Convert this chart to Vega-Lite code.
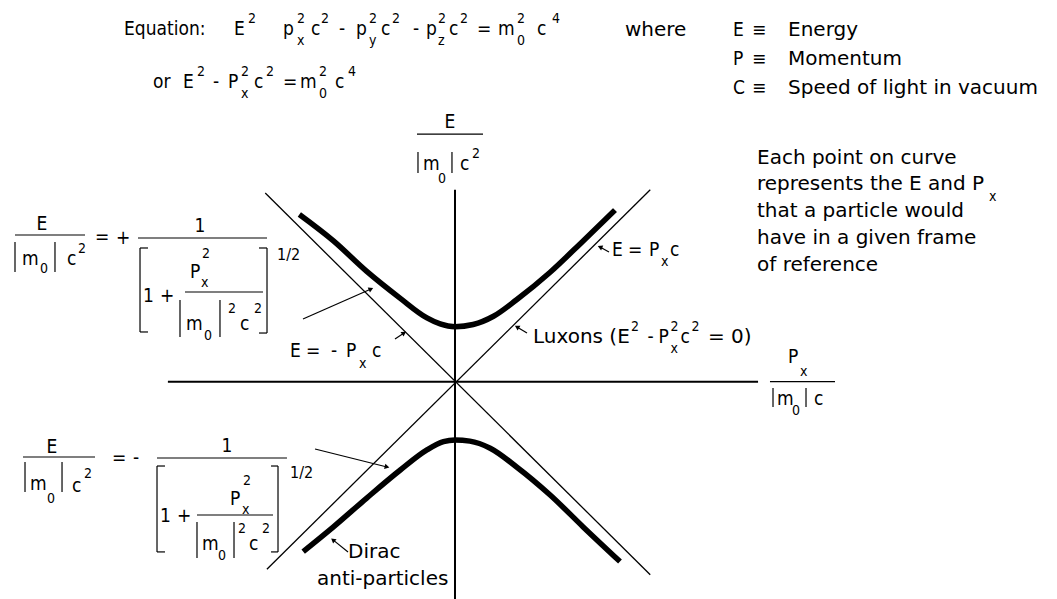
{
  "$schema": "https://vega.github.io/schema/vega-lite/v6.json",
  "width": 1057,
  "height": 599,
  "padding": 0,
  "autosize": {"type": "none"},
  "background": "white",
  "config": {"view": {"stroke": null}, "text": {"font": "DejaVu Sans Condensed", "color": "black"}},
  "datasets": {
    "curves": [
      {"c": "particles", "x": -2.83, "y": 3.04},
      {"c": "particles", "x": -2.21, "y": 2.56},
      {"c": "particles", "x": -1.61, "y": 2.01},
      {"c": "particles", "x": -1.0, "y": 1.52},
      {"c": "particles", "x": -0.51, "y": 1.16},
      {"c": "particles", "x": -0.27, "y": 1.05},
      {"c": "particles", "x": 0, "y": 1.0},
      {"c": "particles", "x": 0.33, "y": 1.04},
      {"c": "particles", "x": 0.7, "y": 1.19},
      {"c": "particles", "x": 1.12, "y": 1.49},
      {"c": "particles", "x": 1.73, "y": 1.99},
      {"c": "particles", "x": 2.33, "y": 2.56},
      {"c": "particles", "x": 2.91, "y": 3.12},
      {"c": "anti", "x": -2.76, "y": -3.09},
      {"c": "anti", "x": -2.21, "y": -2.64},
      {"c": "anti", "x": -1.61, "y": -2.12},
      {"c": "anti", "x": -1.0, "y": -1.61},
      {"c": "anti", "x": -0.51, "y": -1.24},
      {"c": "anti", "x": -0.21, "y": -1.09},
      {"c": "anti", "x": 0, "y": -1.06},
      {"c": "anti", "x": 0.27, "y": -1.08},
      {"c": "anti", "x": 0.64, "y": -1.21},
      {"c": "anti", "x": 1.12, "y": -1.55},
      {"c": "anti", "x": 1.73, "y": -2.06},
      {"c": "anti", "x": 2.33, "y": -2.64},
      {"c": "anti", "x": 3.0, "y": -3.27}
    ],
    "lux": [
      {"x": -3.45, "y": 3.43, "x2": 3.55, "y2": -3.51},
      {"x": -3.42, "y": -3.41, "x2": 3.55, "y2": 3.49}
    ],
    "axes": [
      {"x": 0, "y": 3.49, "x2": 0, "y2": -3.95},
      {"x": -5.22, "y": 0, "x2": 5.51, "y2": 0}
    ],
    "ticks": [
      {"v": 2, "label": "2"},
      {"v": 1, "label": "1"},
      {"v": -1, "label": "-1"},
      {"v": -2, "label": "-2"}
    ],
    "segs": [
      {"x": -0.691, "y": 4.503, "x2": 0.509, "y2": 4.503},
      {"x": -0.673, "y": 4.176, "x2": -0.673, "y2": 3.795},
      {"x": -0.055, "y": 4.176, "x2": -0.055, "y2": 3.795},
      {"x": 5.727, "y": 0, "x2": 6.909, "y2": 0},
      {"x": 5.782, "y": -0.113, "x2": 5.782, "y2": -0.458},
      {"x": 6.382, "y": -0.113, "x2": 6.382, "y2": -0.458},
      {"x": -8.0, "y": 2.667, "x2": -6.727, "y2": 2.667},
      {"x": -5.764, "y": 2.613, "x2": -3.418, "y2": 2.613},
      {"x": -4.909, "y": 1.631, "x2": -3.491, "y2": 1.631},
      {"x": -8.0, "y": 2.54, "x2": -8.0, "y2": 1.995},
      {"x": -7.273, "y": 2.54, "x2": -7.273, "y2": 1.995},
      {"x": -5.0, "y": 1.485, "x2": -5.0, "y2": 0.813},
      {"x": -4.273, "y": 1.485, "x2": -4.273, "y2": 0.813},
      {"x": -5.727, "y": 2.431, "x2": -5.727, "y2": 0.904},
      {"x": -5.727, "y": 2.431, "x2": -5.582, "y2": 2.431},
      {"x": -5.727, "y": 0.904, "x2": -5.582, "y2": 0.904},
      {"x": -3.418, "y": 2.431, "x2": -3.418, "y2": 0.885},
      {"x": -3.564, "y": 2.431, "x2": -3.418, "y2": 2.431},
      {"x": -3.564, "y": 0.885, "x2": -3.418, "y2": 0.885},
      {"x": -7.855, "y": -1.369, "x2": -6.545, "y2": -1.369},
      {"x": -5.418, "y": -1.387, "x2": -3.055, "y2": -1.387},
      {"x": -4.691, "y": -2.424, "x2": -3.309, "y2": -2.424},
      {"x": -7.818, "y": -1.46, "x2": -7.818, "y2": -2.005},
      {"x": -7.145, "y": -1.46, "x2": -7.145, "y2": -2.005},
      {"x": -4.691, "y": -2.551, "x2": -4.691, "y2": -3.205},
      {"x": -4.018, "y": -2.551, "x2": -4.018, "y2": -3.205},
      {"x": -5.418, "y": -1.533, "x2": -5.418, "y2": -3.095},
      {"x": -5.418, "y": -1.533, "x2": -5.273, "y2": -1.533},
      {"x": -5.418, "y": -3.095, "x2": -5.273, "y2": -3.095},
      {"x": -3.218, "y": -1.533, "x2": -3.218, "y2": -3.095},
      {"x": -3.345, "y": -1.533, "x2": -3.218, "y2": -1.533},
      {"x": -3.345, "y": -3.095, "x2": -3.218, "y2": -3.095},
      {"x": -2.764, "y": 1.14, "x2": -1.527, "y2": 1.685},
      {"x": -1.091, "y": 0.776, "x2": -0.927, "y2": 0.885},
      {"x": 2.8, "y": 2.358, "x2": 2.636, "y2": 2.449},
      {"x": 1.309, "y": 0.885, "x2": 1.127, "y2": 0.995},
      {"x": -2.545, "y": -1.224, "x2": -1.236, "y2": -1.551},
      {"x": -1.945, "y": -3.095, "x2": -2.218, "y2": -2.876}
    ],
    "heads": [
      {"x": -1.527, "y": 1.685, "a": 336},
      {"x": -0.927, "y": 0.885, "a": 326},
      {"x": 2.636, "y": 2.449, "a": 203},
      {"x": 1.127, "y": 0.995, "a": 211},
      {"x": -1.236, "y": -1.551, "a": 14},
      {"x": -2.218, "y": -2.876, "a": 219}
    ],
    "txt": [
      {"t": "Equation:", "x": -6.018, "y": 6.304, "k": "n"},
      {"t": "E", "x": -4.018, "y": 6.304, "k": "n"},
      {"t": "2", "x": -3.764, "y": 6.522, "k": "s"},
      {"t": "p", "x": -3.127, "y": 6.304, "k": "n"},
      {"t": "2", "x": -2.873, "y": 6.522, "k": "s"},
      {"t": "x", "x": -2.873, "y": 6.122, "k": "s"},
      {"t": "c", "x": -2.618, "y": 6.304, "k": "n"},
      {"t": "2", "x": -2.436, "y": 6.522, "k": "s"},
      {"t": "-", "x": -2.109, "y": 6.304, "k": "n"},
      {"t": "p", "x": -1.8, "y": 6.304, "k": "n"},
      {"t": "2", "x": -1.564, "y": 6.522, "k": "s"},
      {"t": "y", "x": -1.564, "y": 6.122, "k": "s"},
      {"t": "c", "x": -1.345, "y": 6.304, "k": "n"},
      {"t": "2", "x": -1.145, "y": 6.522, "k": "s"},
      {"t": "-", "x": -0.764, "y": 6.304, "k": "n"},
      {"t": "p", "x": -0.527, "y": 6.304, "k": "n"},
      {"t": "2", "x": -0.309, "y": 6.522, "k": "s"},
      {"t": "z", "x": -0.309, "y": 6.122, "k": "s"},
      {"t": "c", "x": -0.109, "y": 6.304, "k": "n"},
      {"t": "2", "x": 0.091, "y": 6.522, "k": "s"},
      {"t": "=", "x": 0.4, "y": 6.304, "k": "n"},
      {"t": "m", "x": 0.782, "y": 6.304, "k": "n"},
      {"t": "2", "x": 1.127, "y": 6.522, "k": "s"},
      {"t": "0", "x": 1.127, "y": 6.122, "k": "s"},
      {"t": "c", "x": 1.491, "y": 6.304, "k": "n"},
      {"t": "4", "x": 1.764, "y": 6.522, "k": "s"},
      {"t": "or", "x": -5.491, "y": 5.34, "k": "n"},
      {"t": "E", "x": -4.945, "y": 5.34, "k": "n"},
      {"t": "2", "x": -4.691, "y": 5.558, "k": "s"},
      {"t": "-", "x": -4.4, "y": 5.34, "k": "n"},
      {"t": "P", "x": -4.127, "y": 5.34, "k": "n"},
      {"t": "2", "x": -3.891, "y": 5.558, "k": "s"},
      {"t": "x", "x": -3.891, "y": 5.158, "k": "s"},
      {"t": "c", "x": -3.655, "y": 5.34, "k": "n"},
      {"t": "2", "x": -3.436, "y": 5.558, "k": "s"},
      {"t": "=", "x": -3.127, "y": 5.34, "k": "n"},
      {"t": "m", "x": -2.818, "y": 5.34, "k": "n"},
      {"t": "2", "x": -2.473, "y": 5.558, "k": "s"},
      {"t": "0", "x": -2.473, "y": 5.158, "k": "s"},
      {"t": "c", "x": -2.182, "y": 5.34, "k": "n"},
      {"t": "4", "x": -1.945, "y": 5.558, "k": "s"},
      {"t": "where", "x": 3.091, "y": 6.285, "k": "w"},
      {"t": "E", "x": 5.055, "y": 6.285, "k": "n"},
      {"t": "≡", "x": 5.4, "y": 6.285, "k": "n"},
      {"t": "Energy", "x": 6.055, "y": 6.285, "k": "w"},
      {"t": "P", "x": 5.055, "y": 5.758, "k": "n"},
      {"t": "≡", "x": 5.4, "y": 5.758, "k": "n"},
      {"t": "Momentum", "x": 6.055, "y": 5.758, "k": "w"},
      {"t": "C", "x": 5.055, "y": 5.231, "k": "n"},
      {"t": "≡", "x": 5.4, "y": 5.231, "k": "n"},
      {"t": "Speed of light in vacuum", "x": 6.055, "y": 5.231, "k": "w"},
      {"t": "Each point on curve", "x": 5.491, "y": 3.958, "k": "w"},
      {"t": "represents the E and P", "x": 5.491, "y": 3.485, "k": "w"},
      {"t": "x", "x": 9.709, "y": 3.285, "k": "s"},
      {"t": "that a particle would", "x": 5.491, "y": 2.995, "k": "w"},
      {"t": "have in a given frame", "x": 5.491, "y": 2.504, "k": "w"},
      {"t": "of reference", "x": 5.491, "y": 2.013, "k": "w"},
      {"t": "E", "x": -0.091, "y": 4.613, "k": "c"},
      {"t": "m", "x": -0.582, "y": 3.849, "k": "n"},
      {"t": "0", "x": -0.309, "y": 3.613, "k": "s"},
      {"t": "c", "x": 0.091, "y": 3.849, "k": "n"},
      {"t": "2", "x": 0.309, "y": 4.067, "k": "s"},
      {"t": "P", "x": 6.055, "y": 0.34, "k": "n"},
      {"t": "x", "x": 6.273, "y": 0.104, "k": "s"},
      {"t": "m", "x": 5.855, "y": -0.424, "k": "n"},
      {"t": "0", "x": 6.127, "y": -0.605, "k": "s"},
      {"t": "c", "x": 6.527, "y": -0.424, "k": "n"},
      {"t": "E", "x": 2.855, "y": 2.285, "k": "n"},
      {"t": "=", "x": 3.145, "y": 2.285, "k": "n"},
      {"t": "P", "x": 3.527, "y": 2.285, "k": "n"},
      {"t": "x", "x": 3.745, "y": 2.104, "k": "s"},
      {"t": "c", "x": 3.909, "y": 2.285, "k": "n"},
      {"t": "E", "x": -3.0, "y": 0.449, "k": "n"},
      {"t": "=", "x": -2.709, "y": 0.449, "k": "n"},
      {"t": "-", "x": -2.255, "y": 0.449, "k": "n"},
      {"t": "P", "x": -1.982, "y": 0.449, "k": "n"},
      {"t": "x", "x": -1.745, "y": 0.249, "k": "s"},
      {"t": "c", "x": -1.509, "y": 0.449, "k": "n"},
      {"t": "Luxons (E", "x": 1.418, "y": 0.704, "k": "w"},
      {"t": "2", "x": 3.2, "y": 0.922, "k": "s"},
      {"t": "-", "x": 3.5, "y": 0.704, "k": "n"},
      {"t": "P", "x": 3.7, "y": 0.704, "k": "n"},
      {"t": "2", "x": 3.918, "y": 0.922, "k": "s"},
      {"t": "x", "x": 3.918, "y": 0.522, "k": "s"},
      {"t": "c", "x": 4.1, "y": 0.704, "k": "n"},
      {"t": "2", "x": 4.3, "y": 0.922, "k": "s"},
      {"t": "= 0)", "x": 4.6, "y": 0.704, "k": "w"},
      {"t": "E", "x": -7.509, "y": 2.758, "k": "c"},
      {"t": "m", "x": -7.873, "y": 2.122, "k": "n"},
      {"t": "0", "x": -7.545, "y": 1.976, "k": "s"},
      {"t": "c", "x": -7.055, "y": 2.122, "k": "n"},
      {"t": "2", "x": -6.855, "y": 2.34, "k": "s"},
      {"t": "=", "x": -6.545, "y": 2.522, "k": "n"},
      {"t": "+", "x": -6.164, "y": 2.504, "k": "n"},
      {"t": "1", "x": -4.636, "y": 2.722, "k": "c"},
      {"t": "1/2", "x": -3.236, "y": 2.213, "k": "h"},
      {"t": "1", "x": -5.673, "y": 1.449, "k": "n"},
      {"t": "+", "x": -5.364, "y": 1.449, "k": "n"},
      {"t": "P", "x": -4.818, "y": 1.885, "k": "n"},
      {"t": "2", "x": -4.6, "y": 2.249, "k": "s"},
      {"t": "x", "x": -4.618, "y": 1.722, "k": "s"},
      {"t": "m", "x": -4.891, "y": 0.94, "k": "n"},
      {"t": "0", "x": -4.564, "y": 0.758, "k": "s"},
      {"t": "2", "x": -4.127, "y": 1.249, "k": "s"},
      {"t": "c", "x": -3.909, "y": 0.94, "k": "n"},
      {"t": "2", "x": -3.655, "y": 1.249, "k": "s"},
      {"t": "E", "x": -7.327, "y": -1.296, "k": "c"},
      {"t": "m", "x": -7.727, "y": -1.969, "k": "n"},
      {"t": "0", "x": -7.418, "y": -2.205, "k": "s"},
      {"t": "c", "x": -6.964, "y": -2.005, "k": "n"},
      {"t": "2", "x": -6.745, "y": -1.751, "k": "s"},
      {"t": "=", "x": -6.236, "y": -1.496, "k": "n"},
      {"t": "-", "x": -5.855, "y": -1.496, "k": "n"},
      {"t": "1", "x": -4.145, "y": -1.278, "k": "c"},
      {"t": "1/2", "x": -3.0, "y": -1.751, "k": "h"},
      {"t": "1", "x": -5.364, "y": -2.551, "k": "n"},
      {"t": "+", "x": -5.055, "y": -2.551, "k": "n"},
      {"t": "P", "x": -4.091, "y": -2.242, "k": "n"},
      {"t": "2", "x": -3.855, "y": -1.878, "k": "s"},
      {"t": "x", "x": -3.873, "y": -2.405, "k": "s"},
      {"t": "m", "x": -4.6, "y": -3.06, "k": "n"},
      {"t": "0", "x": -4.309, "y": -3.242, "k": "s"},
      {"t": "2", "x": -3.945, "y": -2.751, "k": "s"},
      {"t": "c", "x": -3.745, "y": -3.06, "k": "n"},
      {"t": "2", "x": -3.509, "y": -2.751, "k": "s"},
      {"t": "Dirac", "x": -1.945, "y": -3.205, "k": "w"},
      {"t": "anti-particles", "x": -2.509, "y": -3.696, "k": "w"}
    ]
  },
  "encoding": {
    "x": {"field": "x", "type": "quantitative", "scale": {"domain": [-8.2727, 10.9455], "nice": false, "zero": false}, "axis": null},
    "y": {"field": "y", "type": "quantitative", "scale": {"domain": [-3.9509, 6.94], "nice": false, "zero": false}, "axis": null}
  },
  "layer": [
    {
      "data": {"name": "axes"},
      "mark": {"type": "rule", "color": "black", "strokeWidth": 2},
      "encoding": {"x2": {"field": "x2"}, "y2": {"field": "y2"}}
    },
    {
      "data": {"name": "lux"},
      "mark": {"type": "rule", "color": "black", "strokeWidth": 1.3},
      "encoding": {"x2": {"field": "x2"}, "y2": {"field": "y2"}}
    },
    {
      "data": {"name": "segs"},
      "mark": {"type": "rule", "color": "black", "strokeWidth": 1.2},
      "encoding": {"x2": {"field": "x2"}, "y2": {"field": "y2"}}
    },
    {
      "data": {"name": "heads"},
      "mark": {"type": "point", "shape": "triangle-right", "filled": true, "color": "black", "size": 30, "opacity": 1},
      "encoding": {"angle": {"field": "a", "type": "quantitative", "scale": null}}
    },
    {
      "data": {"name": "curves"},
      "mark": {"type": "line", "color": "black", "strokeWidth": 5.5, "strokeCap": "butt", "interpolate": "monotone"},
      "encoding": {"detail": {"field": "c"}}
    },
    {
      "data": {"name": "ticks"},
      "mark": {"type": "rule", "color": "black", "strokeWidth": 1.5},
      "encoding": {"x": {"datum": -0.09}, "x2": {"datum": 0.09}, "y": {"field": "v", "type": "quantitative"}}
    },
    {
      "data": {"name": "ticks"},
      "mark": {"type": "text", "align": "left", "baseline": "middle", "fontSize": 19},
      "encoding": {"x": {"datum": 0.2}, "y": {"field": "v", "type": "quantitative"}, "text": {"field": "label"}}
    },
    {
      "data": {"name": "txt"},
      "transform": [{"filter": "datum.k === 'n'"}],
      "mark": {"type": "text", "align": "left", "baseline": "alphabetic", "fontSize": 19},
      "encoding": {"text": {"field": "t"}}
    },
    {
      "data": {"name": "txt"},
      "transform": [{"filter": "datum.k === 'w'"}],
      "mark": {"type": "text", "align": "left", "baseline": "alphabetic", "fontSize": 20, "font": "DejaVu Sans"},
      "encoding": {"text": {"field": "t"}}
    },
    {
      "data": {"name": "txt"},
      "transform": [{"filter": "datum.k === 's'"}],
      "mark": {"type": "text", "align": "left", "baseline": "alphabetic", "fontSize": 14},
      "encoding": {"text": {"field": "t"}}
    },
    {
      "data": {"name": "txt"},
      "transform": [{"filter": "datum.k === 'c'"}],
      "mark": {"type": "text", "align": "center", "baseline": "alphabetic", "fontSize": 19},
      "encoding": {"text": {"field": "t"}}
    },
    {
      "data": {"name": "txt"},
      "transform": [{"filter": "datum.k === 'h'"}],
      "mark": {"type": "text", "align": "left", "baseline": "alphabetic", "fontSize": 16},
      "encoding": {"text": {"field": "t"}}
    }
  ]
}
